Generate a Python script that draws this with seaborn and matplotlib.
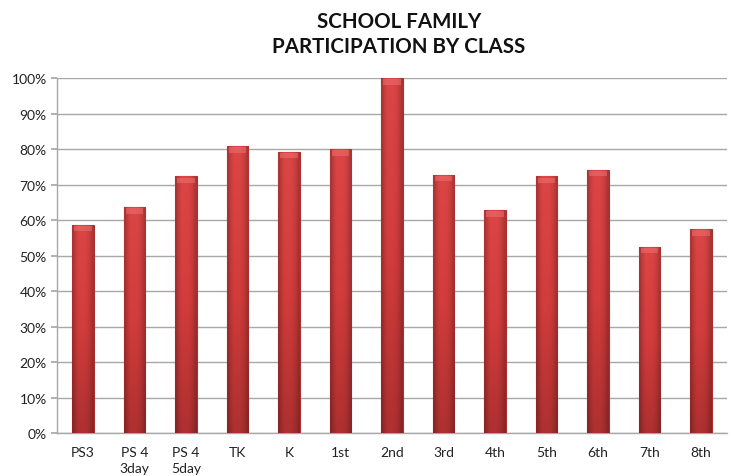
import numpy as np
import pandas as pd
import matplotlib
matplotlib.use("Agg")
import matplotlib.pyplot as plt
import seaborn as sns
from matplotlib.ticker import PercentFormatter
from matplotlib.colors import LinearSegmentedColormap

# data
classes = ["PS3", "PS 4\n3day", "PS 4\n5day", "TK", "K", "1st", "2nd",
           "3rd", "4th", "5th", "6th", "7th", "8th"]
participation = [58.7, 63.6, 72.3, 80.8, 79.3, 80.0, 100.0,
                 72.7, 62.8, 72.3, 74.2, 52.5, 57.4]

df = pd.DataFrame({"cls": classes, "pct": participation})

sns.set_theme(style="white")
plt.rcParams["font.family"] = ["Lato", "DejaVu Sans"]

fig = plt.figure(figsize=(7.32, 4.77), dpi=100)
ax = fig.add_axes([0.078, 0.090, 0.915, 0.744])

sns.barplot(data=df, x="cls", y="pct", color="#D83F3F", width=0.42,
            edgecolor="#A93030", linewidth=0.8, saturation=1, ax=ax, zorder=3)

# shaded look: vertical gradient (lighter top, darker base) plus darker sides
vert = LinearSegmentedColormap.from_list("v", ["#AE3030", "#D23C3C", "#DC4545"])
side = np.array([0.78, 0.92, 1.0, 1.0, 1.0, 0.97, 0.9, 0.78])
for p in ax.patches:
    x0, w, h = p.get_x(), p.get_width(), p.get_height()
    t = np.linspace(0, 1, 60)[:, None]
    rgb = vert(t)[:, :, :3] * side[None, :, None]
    img = ax.imshow(rgb, extent=[x0, x0 + w, 0, h], origin="lower",
                    aspect="auto", zorder=3.5, interpolation="bilinear")
    img.set_clip_path(p)
    cap = min(1.8, h)
    ax.fill_between([x0 + w * 0.1, x0 + w * 0.9], h - cap, h - 0.3,
                    color="#EE7070", alpha=0.55, zorder=3.6, linewidth=0)

ax.set_ylim(0, 100)
ax.set_xlim(-0.5, len(classes) - 0.5)
ax.set_yticks(np.arange(0, 101, 10))
ax.yaxis.set_major_formatter(PercentFormatter(decimals=0))
ax.yaxis.grid(True, color="#A8A8A8", linewidth=1, zorder=0)
ax.set_xlabel("")
ax.set_ylabel("")
for s in ["top", "right"]:
    ax.spines[s].set_visible(False)
for s in ["left", "bottom"]:
    ax.spines[s].set_color("#A8A8A8")
    ax.spines[s].set_linewidth(1)
ax.tick_params(axis="y", labelsize=10, colors="#222222", length=4, color="#A8A8A8", left=True)
ax.tick_params(axis="x", labelsize=10, colors="#222222", length=0, pad=9)
for lab in ax.get_xticklabels():
    lab.set_verticalalignment("top")
    lab.set_linespacing(1.45)

fig.text(0.545, 0.928, "SCHOOL FAMILY\nPARTICIPATION BY CLASS", ha="center", va="center",
         fontsize=14.8, fontweight="bold", linespacing=1.35, color="#111111")

fig.savefig("out.png", dpi=100)
